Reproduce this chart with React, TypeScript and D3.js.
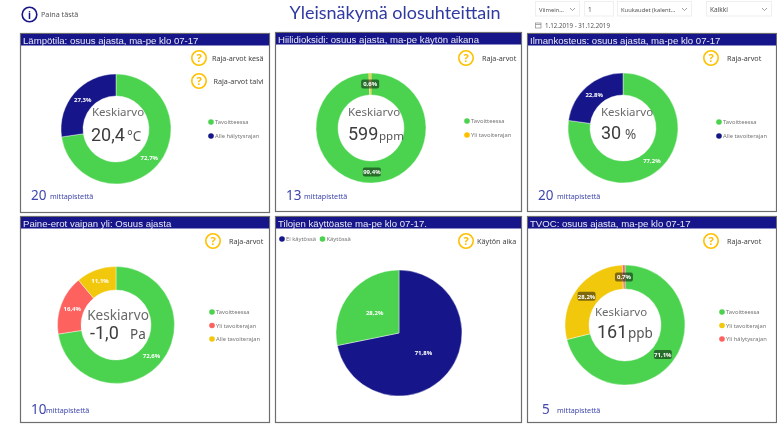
import React from 'react'
import * as d3 from 'd3'

const WIDTH = 777
const HEIGHT = 425

const GREEN = '#4bd34f'
const NAVY = '#17178a'
const YELLOW = '#f2c80f'
const RED = '#fd625e'
const AMBER = '#ffc000'
const BLUE_TEXT = '#3f47ad'

// donut / pie values, percent of time
const tempValues = [72.7, 27.3]
const co2Values = [99.4, 0.6]
const humidityValues = [77.2, 22.8]
const pressureValues = [72.6, 16.4, 11.1]
const usageValues = [71.8, 28.2]
const tvocValues = [71.1, 28.2, 0.7]

const tempLegend = ['Tavoitteessa', 'Alle hälytysrajan']
const co2Legend = ['Tavoitteessa', 'Yli tavoiterajan']
const humidityLegend = ['Tavoitteessa', 'Alle tavoiterajan']
const pressureLegend = ['Tavoitteessa', 'Yli tavoiterajan', 'Alle tavoiterajan']
const usageLegend = ['Ei käytössä', 'Käytössä']
const tvocLegend = ['Tavoitteessa', 'Yli tavoiterajan', 'Yli hälytysrajan']

const panels = [
  {
    title: 'Lämpötila: osuus ajasta, ma-pe klo 07-17',
    box: [20, 33, 249, 179], cx: 116, cy: 129, r: 55, inner: 33,
    values: tempValues, colors: [GREEN, NAVY], legend: tempLegend, legendX: 211, legendY: 122, legendStep: 14,
    avg: '20,4', unit: '°C', avgX: 91, unitX: 127, avgY: 141, labelY: 116, labelX: 118, labelSize: 11.5, unitSize: 13.5,
    count: '20', countX: 31, textX: 50, countY: 200,
    help: [[199, 58, 'Raja-arvot kesä', 212], [199, 81, 'Raja-arvot talvi', 213.5]],
  },
  {
    title: 'Hiilidioksidi: osuus ajasta, ma-pe käytön aikana',
    box: [275, 32, 246, 179], cx: 371, cy: 128, r: 55, inner: 33,
    values: co2Values, colors: [GREEN, AMBER], legend: co2Legend, legendX: 467, legendY: 121, legendStep: 14,
    avg: '599', unit: 'ppm', avgX: 348, unitX: 379, avgY: 140, labelY: 116, labelX: 374, labelSize: 11.5, unitSize: 11.5,
    count: '13', countX: 286, textX: 304, countY: 200, darkLabels: true,
    help: [[466, 58, 'Raja-arvot', 482]],
  },
  {
    title: 'Ilmankosteus: osuus ajasta, ma-pe klo 07-17',
    box: [527, 33, 249, 178], cx: 623, cy: 128, r: 55, inner: 33,
    values: humidityValues, colors: [GREEN, NAVY], legend: humidityLegend, legendX: 719, legendY: 122, legendStep: 14,
    avg: '30', unit: '%', avgX: 601, unitX: 625, avgY: 139, labelY: 116, labelX: 627, labelSize: 11.5, unitSize: 13.5,
    count: '20', countX: 538, textX: 557, countY: 200,
    help: [[711, 58, 'Raja-arvot', 727]],
  },
  {
    title: 'Paine-erot vaipan yli: Osuus ajasta',
    box: [20, 216, 249, 206], cx: 116, cy: 325, r: 58.5, inner: 35,
    values: pressureValues, colors: [GREEN, RED, YELLOW], legend: pressureLegend, legendX: 212, legendY: 312, legendStep: 13.5,
    avg: '-1,0', unit: 'Pa', avgX: 90, unitX: 130, avgY: 339, labelY: 320, labelX: 118, labelSize: 13.6, unitSize: 13.5,
    count: '10', countX: 31, textX: 46, countY: 414,
    help: [[213, 241, 'Raja-arvot', 229]],
  },
  {
    title: 'Tilojen käyttöaste ma-pe klo 07-17.',
    box: [275, 216, 246, 206], cx: 399, cy: 333, r: 63, inner: 0,
    values: usageValues, colors: [NAVY, GREEN],
    help: [[466, 241, 'Käytön aika', 477]],
  },
  {
    title: 'TVOC: osuus ajasta, ma-pe klo 07-17',
    box: [527, 216, 249, 206], cx: 625, cy: 325, r: 60, inner: 36,
    values: tvocValues, colors: [GREEN, YELLOW, RED], legend: tvocLegend, legendX: 722, legendY: 312, legendStep: 13.5,
    avg: '161', unit: 'ppb', avgX: 597, unitX: 628, avgY: 338, labelY: 316, labelX: 621, labelSize: 11.5, unitSize: 13.5,
    count: '5', countX: 542, textX: 557, countY: 414, darkLabels: true,
    help: [[711, 241, 'Raja-arvot', 727]],
  },
]

const slicers = [
  { x: 535, w: 44, label: 'Viimein...', size: 5.8 },
  { x: 584, w: 29, label: '1', plain: true, size: 6.5 },
  { x: 617, w: 74, label: 'Kuukaudet (kalent...', size: 5.8 },
  { x: 706, w: 65, label: 'Kaikki', size: 6.5 },
]

const pct = d3.format('.1f')
const fmt = (v: number) => pct(v).replace('.', ',') + '%'

const HelpIcon = ({ x, y }: { x: number; y: number }) => (
  <g>
    <circle cx={x} cy={y} r={7.2} fill="#fff" stroke={AMBER} strokeWidth={1.6} />
    <text x={x} y={y + 3.8} textAnchor="middle" fontSize={11} fontWeight={700} fill={AMBER}>?</text>
  </g>
)

const Panel = ({ p }: { p: any }) => {
  const [x, y, w, h] = p.box
  const pie = d3.pie<number>().sort(null).value((d) => d)
  const arc = d3.arc<d3.PieArcDatum<number>>().innerRadius(p.inner).outerRadius(p.r)
  const labelArc = d3
    .arc<d3.PieArcDatum<number>>()
    .innerRadius(p.inner ? p.inner : p.r * 0.3)
    .outerRadius(p.inner ? p.r : p.r * 0.7)
  const arcs = pie(p.values)

  return (
    <g>
      <rect x={x + 0.5} y={y + 0.5} width={w} height={h} fill="#fff" stroke="#6e6e6e" strokeWidth={1.2} />
      <rect x={x + 1} y={y + 1} width={w - 1} height={11.5} fill={NAVY} />
      <text x={x + 3} y={y + 10.5} fontSize={9.6} fill="#e8e8f6" fontFamily="'Liberation Sans', Arial, sans-serif">{p.title}</text>

      <g transform={`translate(${p.cx},${p.cy})`}>
        {arcs.map((a: any, i: number) => (
          <path key={i} d={arc(a) as string} fill={p.colors[i]} stroke="#fff" strokeWidth={0.4} />
        ))}
        {arcs.map((a: any, i: number) => {
          const [lx, ly] = labelArc.centroid(a)
          return (
            <g key={i}>
              {p.darkLabels && (
                <rect x={lx - 9} y={ly - 4.5} width={18} height={9} rx={2} fill="#000" opacity={0.48} />
              )}
              <text x={lx} y={ly + 2.2} textAnchor="middle" fontSize={6} fontWeight={700} fill="#fff">{fmt(a.data)}</text>
            </g>
          )
        })}
      </g>

      {p.avg && (
        <g>
          <text x={p.labelX} y={p.labelY} textAnchor="middle" fontSize={p.labelSize} fill="#6a6a6a">Keskiarvo</text>
          <text x={p.avgX} y={p.avgY} fontSize={18} fill="#3c3c3c" fontFamily="Roboto, sans-serif">{p.avg}</text>
          <text x={p.unitX} y={p.avgY} fontSize={p.unitSize} fill="#555">{p.unit}</text>
          <text x={p.countX} y={p.countY} fontSize={13.5} fill={BLUE_TEXT}>{p.count}</text>
          <text x={p.textX} y={p.countY - 1} fontSize={7.2} fill={BLUE_TEXT}>mittapistettä</text>
        </g>
      )}

      {p.legend && p.legend.map((d: string, i: number) => (
        <g key={d}>
          <circle cx={p.legendX} cy={p.legendY + i * p.legendStep} r={2.8} fill={p.colors[i]} />
          <text x={p.legendX + 4} y={p.legendY + 2 + i * p.legendStep} fontSize={5.8} fill="#777">{d}</text>
        </g>
      ))}

      {p.help.map(([hx, hy, label, tx]: any) => (
        <g key={label}>
          <HelpIcon x={hx} y={hy} />
          <text x={tx} y={hy + 2.5} fontSize={7.2} fill="#444">{label}</text>
        </g>
      ))}
    </g>
  )
}

export default function App() {
  return (
    <svg
      width={WIDTH}
      height={HEIGHT}
      viewBox={`0 0 ${WIDTH} ${HEIGHT}`}
      style={{ position: 'absolute', left: 0, top: 0, background: '#fff' }}
      fontFamily="'Noto Sans', 'Open Sans', sans-serif"
    >
      {/* the reference is a soft, upscaled screenshot */}
      <defs>
        <filter id="soft" filterUnits="userSpaceOnUse" x={0} y={0} width={WIDTH} height={HEIGHT}>
          <feGaussianBlur stdDeviation={0.45} />
        </filter>
      </defs>
      <g filter="url(#soft)">
        <rect width={WIDTH} height={HEIGHT} fill="#fff" />
        <circle cx={29.5} cy={14.5} r={7.3} fill="#fff" stroke={NAVY} strokeWidth={1.6} />
        <text x={29.5} y={18.5} textAnchor="middle" fontSize={10} fontWeight={700} fill={NAVY}>i</text>
        <text x={41} y={17} fontSize={7.2} fill="#555">Paina tästä</text>

        <text x={395} y={19} textAnchor="middle" fontSize={18} fill="#2f3aa0" fontFamily="Lato, sans-serif">Yleisnäkymä olosuhteittain</text>

        {slicers.map((s) => (
          <g key={s.label}>
            <rect x={s.x + 0.5} y={1.5} width={s.w} height={14.5} fill="#fff" stroke="#efefef" />
            <text x={s.x + 4} y={11.5} fontSize={s.size} fill="#555">{s.label}</text>
            {!s.plain && (
              <path
                d={`M${s.x + s.w - 9},8 l2.5,2.5 l2.5,-2.5`}
                fill="none"
                stroke="#777"
                strokeWidth={0.7}
              />
            )}
          </g>
        ))}
        <rect x={535.5} y={23} width={5.5} height={5} fill="none" stroke="#888" strokeWidth={0.7} />
        <path d="M535.5,24.5 h5.5" stroke="#888" strokeWidth={0.7} />
        <text x={545} y={28} fontSize={6.2} fill="#555">1.12.2019 - 31.12.2019</text>

        {panels.map((p) => (
          <Panel key={p.title} p={p} />
        ))}

        {/* legend of the pie panel runs horizontally */}
        {usageLegend.map((d, i) => {
          const lx = [282, 322.5][i]
          return (
            <g key={d}>
              <circle cx={lx} cy={239} r={2.8} fill={[NAVY, GREEN][i]} />
              <text x={lx + 4} y={241} fontSize={5.8} fill="#777">{d}</text>
            </g>
          )
        })}
      </g>
    </svg>
  )
}
